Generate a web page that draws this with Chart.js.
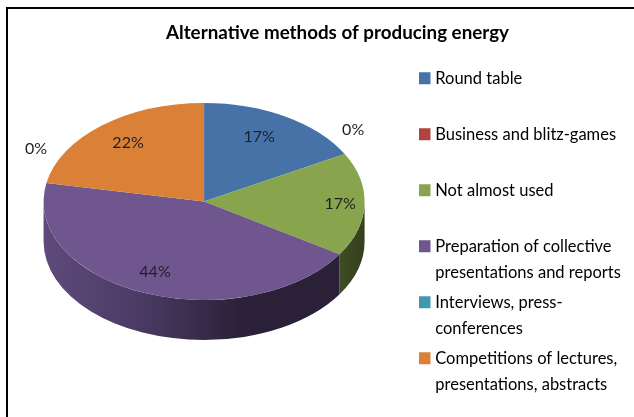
<!DOCTYPE html>
<html>
<head>
<meta charset="utf-8">
<script src="https://cdn.jsdelivr.net/npm/chart.js@4"></script>
<style>
    html, body { margin: 0; padding: 0; background: #fff; overflow: hidden; }
    #wrap { position: relative; width: 634px; height: 417px; }
    #frame { position: absolute; left: 6px; top: 7px; right: 0; bottom: 0; border-left: 2px solid #000; border-top: 2px solid #000; }
    canvas { position: absolute; left: 0; top: 0; }
</style>
</head>
<body>
<div id="wrap">
    <div id="frame"></div>
    <canvas id="pie" width="634" height="417"></canvas>
</div>
<script>
const titleText = 'Alternative methods of producing energy';
const categories = [
    ['Round table', ''],
    ['Business and blitz-games', ''],
    ['Not almost used', ''],
    ['Preparation of collective', 'presentations and reports'],
    ['Interviews, press-', 'conferences'],
    ['Competitions of lectures,', 'presentations, abstracts']
];
const shares = [17, 0, 17, 44, 0, 22];
const sliceColors = ['#4672a8', '#b0433f', '#88a44c', '#70568f', '#4198af', '#da8137'];
const wallColors = [null, null, ['#3f4c25', '#343f1c'], ['#5e4a7c', '#4a3a63', '#2a2139', '#2a2139'], null, null];

// label place around each slice, as a factor of the ellipse radii
const labelRadiusX = [0.675, 1.06, 0.848, 0.83, 1.066, 0.743];
const labelRadiusY = [0.76, 1.506, 0.82, 0.77, 2.85, 0.77];

const squash = 98.5 / 160.5;
const depth = 40;
const textColor = '#1f1f1f';
const fontFamily = 'Lato, "Open Sans", sans-serif';

// tilted look: the arcs are squashed and get a wall below them
const tiltPlugin = {
    id: 'tilt',
    afterLayout(chart) {
        chart.titleBlock.left = 166;
        chart.titleBlock.right = 510;
        chart.titleBlock.top += 4;
        chart.legend.left = 419;
        chart.legend.right = 634;
        chart.legend.top = 67;
        chart.legend.bottom = 417;
    },
    beforeDatasetsDraw(chart) {
        const ctx = chart.ctx;
        const arcs = chart.getDatasetMeta(0).data;
        const cx = arcs[0].x, cy = arcs[0].y, rx = arcs[0].outerRadius, ry = rx * squash;

        arcs.forEach((arc, i) => {
            if (!wallColors[i]) return;
            const start = Math.max(arc.startAngle, 0);
            const end = Math.min(arc.endAngle, Math.PI);
            if (end <= start) return;
            const x0 = cx + rx * Math.cos(end), x1 = cx + rx * Math.cos(start);
            const grad = ctx.createLinearGradient(x0, 0, x1, 0);
            wallColors[i].forEach((c, k) => grad.addColorStop(k / (wallColors[i].length - 1), c));
            ctx.beginPath();
            ctx.ellipse(cx, cy, rx, ry, 0, start, end);
            ctx.ellipse(cx, cy + depth, rx, ry, 0, end, start, true);
            ctx.closePath();
            ctx.fillStyle = grad;
            ctx.fill();
        });

        ctx.save();
        ctx.translate(cx, cy);
        ctx.scale(1, squash);
        ctx.translate(-cx, -cy);
    },
    afterDatasetsDraw(chart) {
        const ctx = chart.ctx;
        ctx.restore();

        const arcs = chart.getDatasetMeta(0).data;
        ctx.save();
        ctx.font = '16px ' + fontFamily;
        ctx.fillStyle = textColor;
        ctx.textAlign = 'center';
        ctx.textBaseline = 'middle';
        arcs.forEach((arc, i) => {
            const mid = (arc.startAngle + arc.endAngle) / 2;
            const rx = arc.outerRadius, ry = rx * squash;
            const x = arc.x + labelRadiusX[i] * rx * Math.cos(mid);
            const y = arc.y + labelRadiusY[i] * ry * Math.sin(mid);
            ctx.fillText(shares[i] + '%', x, y);
        });
        ctx.restore();
    }
};

new Chart(document.getElementById('pie').getContext('2d'), {
    type: 'pie',
    data: {
        labels: categories,
        datasets: [{
            data: shares,
            backgroundColor: sliceColors,
            borderWidth: 0
        }]
    },
    plugins: [tiltPlugin],
    options: {
        responsive: false,
        animation: false,
        layout: { padding: { top: 0, left: 0, right: 14, bottom: 55 } },
        plugins: {
            tooltip: { enabled: false },
            title: {
                display: true,
                text: titleText,
                align: 'start',
                color: '#000',
                font: { family: fontFamily, size: 18.8, weight: 'bold', lineHeight: '24px' },
                padding: { top: 17, bottom: 0 }
            },
            legend: {
                position: 'right',
                align: 'start',
                onClick: null,
                labels: {
                    color: textColor,
                    usePointStyle: true,
                    boxWidth: 5,
                    boxHeight: 12,
                    padding: 3,
                    font: { family: fontFamily, size: 16.5, lineHeight: '26.5px' },
                    generateLabels: () => categories.map((text, i) => ({
                        text,
                        fillStyle: sliceColors[i],
                        strokeStyle: sliceColors[i],
                        pointStyle: 'rect',
                        lineWidth: 0,
                        hidden: false,
                        index: i
                    }))
                }
            }
        }
    }
});
</script>
</body>
</html>
